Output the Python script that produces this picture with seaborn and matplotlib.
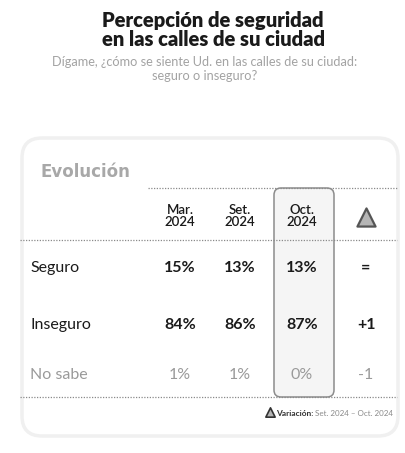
import matplotlib
matplotlib.use("Agg")
import matplotlib.pyplot as plt
from matplotlib.patches import FancyBboxPatch
import seaborn as sns

# table contents
periods = ['Mar.\n2024', 'Set.\n2024', 'Oct.\n2024']
rows = ['Seguro', 'Inseguro', 'No sabe']
mar_2024 = [15, 84, 1]
set_2024 = [13, 86, 1]
oct_2024 = [13, 87, 0]
delta = ['=', '+1', '-1']

title = 'Percepción de seguridad\nen las calles de su ciudad'
subtitle = 'Dígame, ¿cómo se siente Ud. en las calles de su ciudad:\nseguro o inseguro?'

sns.set_theme(style='white')
plt.rcParams['font.family'] = ['Lato', 'DejaVu Sans']

fig = plt.figure(figsize=(4.05, 4.53), dpi=100)
ax = fig.add_axes([0, 0, 1, 1])
ax.set_xlim(0, 405)
ax.set_ylim(453, 0)
ax.axis('off')

# layout (pixel space)
col_x = [180, 240, 302, 366]
row_y = [268, 325, 375]
dark = '#1a1a1a'
grey = '#9a9a9a'

ax.text(213, 30, title, ha='center', va='center', fontsize=14.5, fontweight='heavy',
        color=dark, linespacing=1.0)
ax.text(205, 69, subtitle, ha='center', va='center', fontsize=9.2, color='#a3a3a3',
        linespacing=1.2)

# card
ax.add_patch(FancyBboxPatch((22, 138), 376, 298, boxstyle='round,pad=0,rounding_size=20',
                            fc='white', ec='#f0f0f0', lw=2.5, zorder=0))

ax.text(40, 172, 'Evolución', ha='left', va='center', fontsize=12, fontweight='bold',
        color='#a8a8a8', family='DejaVu Sans')

# highlighted column
ax.add_patch(FancyBboxPatch((274, 188), 60, 209, boxstyle='round,pad=0,rounding_size=7',
                            fc='#f5f5f5', ec='#8c8c8c', lw=1.1, zorder=1))

dots = (0, (1, 1.2))
ax.plot([148, 397], [188, 188], ls=dots, color='#8a8a8a', lw=0.9, zorder=2)
ax.plot([20, 397], [240, 240], ls=dots, color='#8a8a8a', lw=0.9, zorder=2)
ax.plot([20, 397], [397, 397], ls=dots, color='#8a8a8a', lw=0.9, zorder=2)

for x, p in zip(col_x, periods):
    ax.text(x, 216, p, ha='center', va='center', fontsize=9.5, color=dark,
            fontweight='semibold', linespacing=1.05, zorder=3)

# delta header triangle
sns.scatterplot(x=[col_x[3]], y=[217], marker='^', s=170, color='#b5b5b5',
                edgecolor='#555555', linewidth=1.6, ax=ax, zorder=3, legend=False)

for i, r in enumerate(rows):
    muted = (r == 'No sabe')
    c = grey if muted else dark
    w = 'normal' if muted else 'bold'
    ax.text(30, row_y[i], r, ha='left', va='center', fontsize=11.5, color=c, zorder=3)
    for x, v in zip(col_x[:3], [mar_2024[i], set_2024[i], oct_2024[i]]):
        ax.text(x, row_y[i], f'{v}%', ha='center', va='center', fontsize=11.5,
                color=c, fontweight=w, zorder=3)
    ax.text(col_x[3], row_y[i], delta[i], ha='center', va='center', fontsize=11.5,
            color=c, fontweight=w, zorder=3)

# footer note, right aligned
rng = ax.text(393, 413, 'Set. 2024 – Oct. 2024', ha='right', va='center', fontsize=5.8,
              color='#8a8a8a')
lab = ax.annotate('Variación: ', xy=(0, 0.5), xycoords=rng, ha='right', va='center',
                  fontsize=6.0, fontweight='bold', color='#333333')
fig.canvas.draw()
bb = lab.get_window_extent().transformed(ax.transData.inverted())
sns.scatterplot(x=[min(bb.x0, bb.x1) - 6], y=[412], marker='^', s=45, color='#b5b5b5',
                edgecolor='#333333', linewidth=1.2, ax=ax, zorder=3, legend=False)

fig.savefig('out.png', dpi=100, facecolor='white')
